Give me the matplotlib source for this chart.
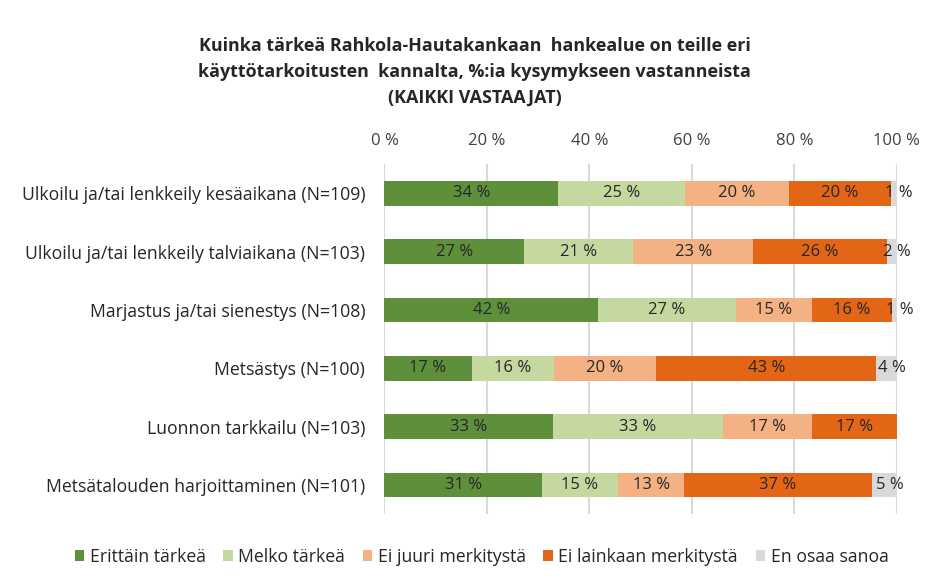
import matplotlib
matplotlib.use("Agg")
import matplotlib.pyplot as plt
import numpy as np

categories = [
    "Ulkoilu ja/tai lenkkeily kesäaikana (N=109)",
    "Ulkoilu ja/tai lenkkeily talviaikana (N=103)",
    "Marjastus ja/tai sienestys (N=108)",
    "Metsästys (N=100)",
    "Luonnon tarkkailu (N=103)",
    "Metsätalouden harjoittaminen (N=101)",
]
series_names = ["Erittäin tärkeä", "Melko tärkeä", "Ei juuri merkitystä",
                "Ei lainkaan merkitystä", "En osaa sanoa"]
erittain = [33.9, 27.2, 41.7, 17.0, 32.9, 30.7]
melko = [24.8, 21.4, 26.9, 16.0, 33.1, 14.9]
ei_juuri = [20.2, 23.3, 14.8, 20.0, 17.4, 12.9]
ei_lainkaan = [19.9, 26.2, 15.7, 43.0, 16.6, 36.6]
en_osaa = [1.2, 1.9, 0.9, 4.0, 0.0, 4.9]
xticks = [0, 20, 40, 60, 80, 100]
title = ("Kuinka tärkeä Rahkola-Hautakankaan  hankealue on teille eri\n"
         "käyttötarkoitusten  kannalta, %:ia kysymykseen vastanneista\n"
         "(KAIKKI VASTAAJAT)")

colors = ["#5e8f3b", "#c5d8a0", "#f4b183", "#e26615", "#d9d9d9"]
text_color = "#262626"
plt.rcParams['font.family'] = ['Open Sans', 'DejaVu Sans']

fig = plt.figure(figsize=(9.35, 5.82), dpi=100)
ax = fig.add_axes([0.4112, 0.1168, 0.548, 0.601])

data = [erittain, melko, ei_juuri, ei_lainkaan, en_osaa]
y = np.arange(len(categories))
left = np.zeros(len(categories))
for i, (vals, c, name) in enumerate(zip(data, colors, series_names)):
    vals = np.array(vals)
    ax.barh(y, vals, left=left, height=0.42, color=c, label=name, zorder=3)
    for yi, v, l in zip(y, vals, left):
        if v <= 0:
            continue
        xpos = l + v / 2 + (1.0 if i == 4 else 0.0)
        ax.text(xpos, yi, f"{round(v):.0f} %", ha="center", va="center",
                fontsize=12, color=text_color, zorder=4)
    left = left + vals

ax.set_xlim(0, 100)
ax.set_ylim(len(categories) - 0.5, -0.5)
ax.set_xticks(xticks)
ax.set_xticklabels([f"{t} %" for t in xticks], fontsize=12, color="#404040")
ax.xaxis.tick_top()
ax.tick_params(axis="x", length=0, pad=11)
ax.set_yticks(y)
ax.set_yticklabels(categories, fontsize=12.7, color=text_color)
ax.tick_params(axis="y", length=0, pad=14)
ax.grid(axis="x", color="#d9d9d9", linewidth=1.5, zorder=0)
for s in ax.spines.values():
    s.set_visible(False)

fig.text(0.5075, 0.936, title, ha="center", va="top", fontsize=12.9,
         fontweight="bold", color=text_color, linespacing=1.56)

leg = fig.legend(loc="center", bbox_to_anchor=(0.515, 0.043), ncol=5, frameon=False,
                 fontsize=12.7, handlelength=0.55, handleheight=0.55, handletextpad=0.3,
                 columnspacing=1.0)
for t in leg.get_texts():
    t.set_color(text_color)

fig.savefig("out.png", dpi=100)
